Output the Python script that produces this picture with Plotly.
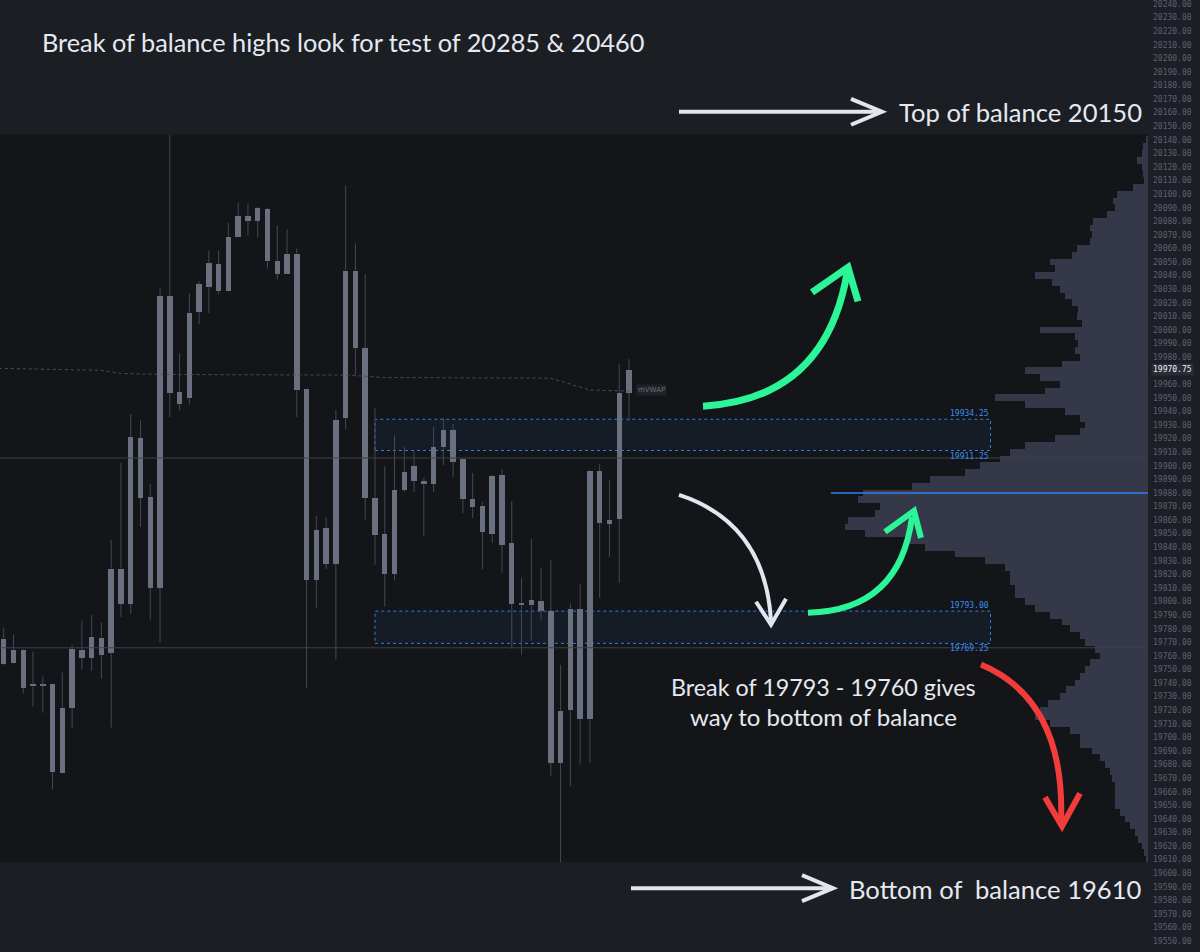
import numpy as np
import plotly.graph_objects as go

# ---------------------------------------------------------------- data
opens = [19754.25, 19764.5, 19764.0, 19737.5, 19739.0, 19739.5, 19673.5, 19722.0, 19764.0, 19758.75,
         19773.5, 19762.5, 19824.25, 19798.5, 19920.5, 19877.0, 19810.25, 20024.75, 19954.25, 19949.75,
         20013.0, 20032.0, 20048.25, 20028.5, 20068.75, 20084.25, 20080.5, 20088.75, 20050.5, 20041.5,
         20056.25, 19956.5, 19816.0, 19854.25, 19827.75, 19935.0, 20043.75, 19986.5, 19876.25, 19849.75,
         19820.5, 19882.25, 19899.75, 19888.75, 19886.5, 19913.75, 19926.25, 19905.0, 19875.5, 19870.5,
         19849.75, 19893.25, 19843.25, 19799.25, 19797.75, 19800.5, 19793.25, 19681.5, 19720.5, 19794.75,
         19713.25, 19896.25, 19857.25, 19860.75, 19953.5]
highs = [19780.75, 19775.75, 19765.25, 19763.25, 19744.75, 19739.75, 19747.75, 19768.25, 19786.0, 19790.25,
         19784.5, 19845.5, 19902.0, 19938.0, 19933.5, 19886.5, 20030.5, 20148.0, 19982.75, 20027.0,
         20035.75, 20058.5, 20058.5, 20079.0, 20093.75, 20093.0, 20090.75, 20089.75, 20077.0, 20074.0,
         20060.0, 19956.75, 19863.0, 19862.25, 19941.0, 20106.25, 20063.75, 20041.0, 19942.5, 19899.75,
         19922.5, 19913.75, 19910.75, 19891.0, 19928.5, 19935.0, 19930.75, 19905.25, 19894.75, 19873.25,
         19893.25, 19897.5, 19874.0, 19817.5, 19846.25, 19824.75, 19830.75, 19753.5, 19798.75, 19813.0,
         19896.75, 19901.25, 19889.5, 19974.75, 19978.5]
lows = [19753.5, 19754.5, 19732.25, 19722.75, 19718.25, 19661.75, 19673.25, 19706.5, 19750.0, 19749.25,
        19743.25, 19707.25, 19788.75, 19791.0, 19855.0, 19786.75, 19769.75, 19935.75, 19941.0, 19945.0,
        20004.25, 20012.25, 20026.25, 20028.25, 20068.5, 20069.5, 20068.0, 20045.25, 20037.25, 20041.25,
        19935.75, 19736.75, 19795.5, 19824.0, 19757.25, 19927.0, 19966.75, 19860.25, 19827.0, 19796.25,
        19815.75, 19880.75, 19880.75, 19848.5, 19880.75, 19900.5, 19891.75, 19865.25, 19861.5, 19824.0,
        19843.25, 19821.25, 19765.25, 19761.0, 19771.25, 19786.75, 19671.25, 19606.5, 19664.0, 19680.0,
        19681.25, 19802.75, 19833.0, 19813.75, 19932.75]
closes = [19772.75, 19755.0, 19736.75, 19739.5, 19738.25, 19674.25, 19722.0, 19765.25, 19758.75, 19774.25,
          19761.0, 19824.25, 19798.5, 19921.0, 19876.25, 19810.25, 20024.75, 19953.5, 19945.25, 20012.25,
          20033.5, 20049.0, 20028.5, 20068.75, 20084.25, 20080.5, 20089.5, 20050.5, 20041.5, 20056.25,
          19955.5, 19816.0, 19852.75, 19827.75, 19933.5, 20043.75, 19986.5, 19876.25, 19849.0, 19820.5,
          19882.25, 19895.5, 19888.75, 19886.5, 19913.75, 19926.25, 19902.75, 19875.5, 19869.75, 19851.25,
          19892.5, 19841.75, 19798.5, 19797.75, 19801.25, 19793.25, 19681.5, 19719.75, 19794.75, 19713.25,
          19896.25, 19858.0, 19860.25, 19953.5, 19970.75]

# session VWAP path (bar index, price)
vwap_bar = [-0.5, 10, 12, 16, 35, 39, 56, 58, 60, 64]
vwap_px = [19971.75, 19970.25, 19968.0, 19967.25, 19966.75, 19965.0, 19964.5, 19960.0, 19955.75, 19955.0]

# volume profile, 5-point rows from 20140 down to 19610
profile_top, profile_bottom, profile_step = 20140, 19610, 5
profile_volume = [2, 5, 6, 11, 6, 5, 4, 15, 31, 35,
                  33, 41, 55, 58, 56, 58, 71, 76, 98, 93,
                  113, 96, 88, 83, 76, 70, 71, 66, 108, 73,
                  70, 73, 68, 86, 123, 108, 88, 103, 153, 123,
                  83, 68, 63, 68, 93, 123, 138, 148, 168, 183,
                  218, 236, 285, 290, 268, 273, 300, 303, 283, 243,
                  223, 193, 163, 143, 138, 138, 133, 133, 123, 113,
                  98, 86, 78, 68, 63, 53, 48, 58, 63, 68,
                  73, 82, 88, 100, 108, 113, 98, 78, 68, 68,
                  56, 48, 43, 38, 36, 33, 33, 33, 33, 28,
                  23, 18, 13, 10, 6, 4, 2]
poc_price = 19880
poc_volume = 317

# reference levels and supply/demand zones
levels = [19905.75, 19766.0]
zones = [(19911.25, 19934.25), (19769.25, 19793.00)]
zone_start_bar, zone_end_bar = 38, 101

# ---------------------------------------------------------------- geometry
W, H = 1200, 952
AXIS_W = 52
PLOT_W = W - AXIS_W
PROFILE_SPAN = PLOT_W  # profile axis units across the whole pane
X_RANGE = [-0.379, 117.12]
Y_RANGE = [19542.0, 20241.47]

BG = "#131519"
BAND = "#1b1e23"
STRIP = "#1c1f25"
BODY = "#6a7080"
WICK = "#454955"
PROFILE = "#353849"
TXT = "#e6e9f0"
GREEN = "#2cf597"
RED = "#f23b3b"
WHITE = "#e3e6ef"
ZONE_BLUE = "#2b7fe6"
MONO = "DejaVu Sans Mono"
SANS = "Lato"


def px(x, y):
    """Pane pixel -> paper fraction string for shape paths."""
    return f"{x / PLOT_W:.5f},{1 - y / H:.5f}"


def fx(x):
    return x / PLOT_W


def fy(y):
    return 1 - y / H


o = np.array(opens); h = np.array(highs); l = np.array(lows); c = np.array(closes)
bars = np.arange(len(c))
body_hi = np.maximum(o, c)
body_lo = np.minimum(o, c)
body_len = np.maximum(body_hi - body_lo, 0.75)

wx, wy = [], []
for i in range(len(c)):
    wx += [i, i, None, i, i, None]
    wy += [h[i], body_hi[i], None, body_lo[i], l[i], None]

profile_prices = np.arange(profile_top, profile_bottom - 1, -profile_step)

fig = go.Figure()

# candles
fig.add_trace(go.Scatter(x=wx, y=wy, mode="lines", line=dict(color=WICK, width=1),
                         hoverinfo="skip", showlegend=False))
fig.add_trace(go.Bar(x=bars, y=body_len, base=body_lo, width=0.56,
                     marker=dict(color=BODY, line=dict(width=0)), showlegend=False))

# VWAP
fig.add_trace(go.Scatter(x=vwap_bar, y=vwap_px, mode="lines",
                         line=dict(color="#4a4e58", width=1, dash="dot"), showlegend=False))

# volume profile (anchored to the right edge)
fig.add_trace(go.Bar(y=profile_prices, x=profile_volume, orientation="h", width=profile_step,
                     xaxis="x2", marker=dict(color=PROFILE, line=dict(width=0)), showlegend=False))
for lv in levels:
    fig.add_trace(go.Scatter(x=[0, PROFILE_SPAN], y=[lv, lv], xaxis="x2", mode="lines",
                             line=dict(color="#3e414a", width=1), showlegend=False))
fig.add_trace(go.Scatter(x=[0, poc_volume], y=[poc_price, poc_price], xaxis="x2", mode="lines",
                         line=dict(color="#2f80f0", width=1.5), showlegend=False))

shapes = []
annotations = []

# zones
for lo, hi in zones:
    shapes.append(dict(type="rect", xref="x", yref="y", x0=zone_start_bar, x1=zone_end_bar,
                       y0=lo, y1=hi, fillcolor="#151c26", layer="below",
                       line=dict(color=ZONE_BLUE, width=1, dash="dot")))
    annotations.append(dict(x=zone_end_bar, y=hi, xref="x", yref="y", text=f"{hi:.2f}",
                            showarrow=False, xanchor="right", yanchor="bottom", yshift=-1,
                            font=dict(family=MONO, size=8, color="#3a8ff0")))
    annotations.append(dict(x=zone_end_bar, y=lo, xref="x", yref="y", text=f"{lo:.2f}",
                            showarrow=False, xanchor="right", yanchor="top", yshift=1,
                            font=dict(family=MONO, size=8, color="#3a8ff0")))

# mVWAP tag
annotations.append(dict(x=vwap_bar[-1], y=vwap_px[-1], xref="x", yref="y", text="mVWAP",
                        showarrow=False, xanchor="left", xshift=7, yshift=1,
                        bgcolor="#1f2227", borderpad=1,
                        font=dict(family="DejaVu Sans", size=7, color="#6b707c")))

# last price tag on the scale
annotations.append(dict(x=1, y=closes[-1], xref="paper", yref="y", text=f"{closes[-1]:.2f}",
                        showarrow=False, xanchor="left", xshift=3, bgcolor="#2a2d35", borderpad=1,
                        font=dict(family=MONO, size=8, color="#f2f3f6")))

# header / footer bands
shapes.append(dict(type="rect", xref="paper", yref="paper", x0=0, x1=1, y0=fy(133), y1=1,
                   fillcolor=BAND, line=dict(width=0), layer="above"))
shapes.append(dict(type="rect", xref="paper", yref="paper", x0=0, x1=1, y0=0, y1=fy(862),
                   fillcolor=BAND, line=dict(width=0), layer="above"))


def stroke(path, color, width):
    shapes.append(dict(type="path", xref="paper", yref="paper", path=path,
                       line=dict(color=color, width=width), layer="above"))


# straight pointers
stroke(f"M {px(679, 110)} L {px(880, 110)}", WHITE, 4)
stroke(f"M {px(851, 97)} L {px(882, 110)} L {px(851, 123)}", WHITE, 4)
stroke(f"M {px(631, 888)} L {px(831, 888)}", WHITE, 4)
stroke(f"M {px(802, 875)} L {px(833, 888)} L {px(802, 901)}", WHITE, 4)

# curved pointers
stroke(f"M {px(703, 405)} Q {px(825, 398)} {px(847, 272)}", GREEN, 7)
stroke(f"M {px(812, 291)} L {px(848, 266)} L {px(858, 300)}", GREEN, 7)
stroke(f"M {px(808, 612)} Q {px(900, 610)} {px(912, 516)}", GREEN, 6)
stroke(f"M {px(885, 531)} L {px(914, 510)} L {px(921, 537)}", GREEN, 6)
stroke(f"M {px(679, 494)} Q {px(765, 522)} {px(771, 620)}", WHITE, 4)
stroke(f"M {px(756, 601)} L {px(771, 624)} L {px(786, 598)}", WHITE, 4)
stroke(f"M {px(981, 664)} Q {px(1066, 700)} {px(1061, 823)}", RED, 6)
stroke(f"M {px(1045, 797)} L {px(1062, 826)} L {px(1080, 793)}", RED, 6)

# captions
def caption(text, x, y, anchor, size):
    annotations.append(dict(x=fx(x), y=fy(y), xref="paper", yref="paper", text=text,
                            showarrow=False, xanchor=anchor, yanchor="middle",
                            font=dict(family=SANS, size=size, color=TXT)))


caption("Break of balance highs look for test of 20285 &amp; 20460", 40, 40, "left", 25.3)
caption("Top of balance 20150", 1144, 110, "right", 25.6)
caption("Bottom of\u00a0 balance 19610", 1144, 889, "right", 25.6)
caption("Break of 19793 - 19760 gives", 823, 686, "center", 23.3)
caption("way to bottom of balance", 823, 716, "center", 24)

fig.update_layout(
    width=W, height=H,
    margin=dict(l=0, r=AXIS_W, t=0, b=0),
    paper_bgcolor=STRIP, plot_bgcolor=BG,
    barmode="overlay", bargap=0,
    showlegend=False,
    shapes=shapes, annotations=annotations,
    xaxis=dict(range=X_RANGE, visible=False, fixedrange=True),
    xaxis2=dict(range=[PROFILE_SPAN, 0], overlaying="x", visible=False, fixedrange=True),
    yaxis=dict(range=Y_RANGE, side="right", tick0=19550, dtick=10, tickformat=".2f",
               showgrid=False, zeroline=False, ticks="", ticklabelstandoff=4,
               ticklabeloverflow="allow",
               tickfont=dict(family=MONO, size=8, color="#5d6272"), fixedrange=True),
)

fig.write_html("out.html")
